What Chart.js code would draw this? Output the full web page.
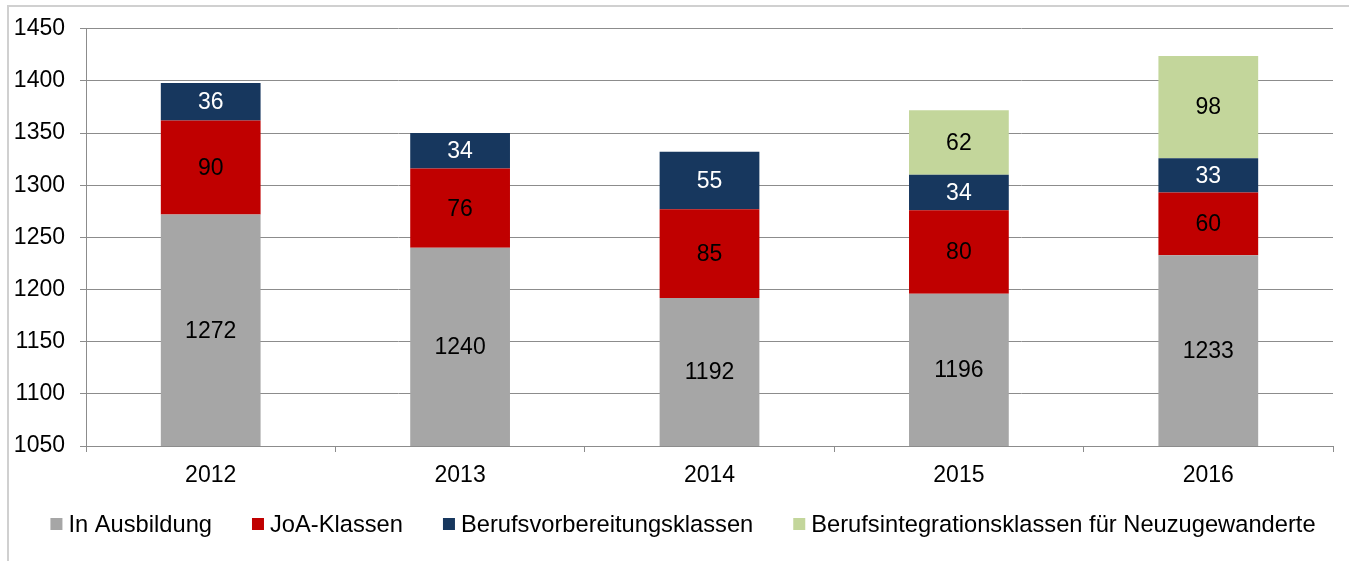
<!DOCTYPE html>
<html>
<head>
<meta charset="utf-8">
<script src="https://cdn.jsdelivr.net/npm/chart.js@4/dist/chart.umd.min.js"></script>
<style>
  html, body { margin: 0; padding: 0; background: #fff; overflow: hidden; }
  #wrap { position: relative; width: 1349px; height: 561px; }
  #frame { position: absolute; left: 7px; top: 5px; width: 1400px; height: 600px;
           border-left: 2px solid #d0d0d0; border-top: 2px solid #d0d0d0; }
  canvas { position: absolute; left: 0; top: 0; }
</style>
</head>
<body>
<div id="wrap">
  <div id="frame"></div>
  <canvas id="c" width="1349" height="561"></canvas>
</div>
<script>
/* Schülerzahlen nach Bildungsgang, gestapelt, 2012–2016 */
var YEARS = ['2012', '2013', '2014', '2015', '2016'];
var AUSBILDUNG = [1272, 1240, 1192, 1196, 1233];
var JOA = [90, 76, 85, 80, 60];
var BVK = [36, 34, 55, 34, 33];
var BIK = [null, null, null, 62, 98];
var SERIES_NAMES = ['In Ausbildung', 'JoA-Klassen', 'Berufsvorbereitungsklassen',
  'Berufsintegrationsklassen für Neuzugewanderte'];

var FAMILY = "'Liberation Sans', Arial, sans-serif";
var COLORS = ['#a6a6a6', '#c00000', '#17375e', '#c3d69b'];
var LABEL_INK = ['#000', '#000', '#fff', '#000'];
var GRID = '#8c8c8c';

Chart.defaults.font.family = FAMILY;
Chart.defaults.font.size = 23;
Chart.defaults.color = '#000';
Chart.defaults.animation = false;

/* ---- value labels centred in the visible part of each segment ---- */
var segLabels = {
  id: 'segLabels',
  afterDatasetsDraw: function (c) {
    var g = c.ctx, bottom = c.chartArea.bottom;
    g.save();
    g.font = '23px ' + FAMILY;
    g.textAlign = 'center';
    g.textBaseline = 'middle';
    c.data.datasets.forEach(function (ds, i) {
      c.getDatasetMeta(i).data.forEach(function (el, j) {
        var v = ds.data[j];
        if (v == null) return;
        var base = Math.min(el.base, bottom);
        g.fillStyle = LABEL_INK[i];
        g.fillText(String(v), el.x, (el.y + base) / 2 + 1);
      });
    });
    g.restore();
  }
};

/* ---- legend row: small squares, tight text gap ---- */
var rowLegend = {
  id: 'rowLegend',
  afterDraw: function (c) {
    var g = c.ctx, box = 12, gap = 6, space = 40, cy = 524;
    g.save();
    g.font = '23.7px ' + FAMILY;
    g.textBaseline = 'middle';
    g.textAlign = 'left';
    var widths = c.data.datasets.map(function (ds) { return g.measureText(ds.label).width; });
    var total = widths.reduce(function (a, w) { return a + box + gap + w; }, 0) + space * (widths.length - 1);
    var x = 683 - total / 2;
    c.data.datasets.forEach(function (ds, i) {
      g.fillStyle = ds.backgroundColor;
      g.fillRect(x, cy - box / 2, box, box);
      g.fillStyle = '#000';
      g.fillText(ds.label, x + box + gap, cy + 1);
      x += box + gap + widths[i] + space;
    });
    g.restore();
  }
};

var datasets = [AUSBILDUNG, JOA, BVK, BIK].map(function (d, i) {
  return {
    label: SERIES_NAMES[i],
    data: d,
    backgroundColor: COLORS[i],
    borderWidth: 0,
    barPercentage: 0.4,
    categoryPercentage: 1
  };
});

new Chart(document.getElementById('c'), {
  type: 'bar',
  data: { labels: YEARS, datasets: datasets },
  plugins: [segLabels, rowLegend],
  options: {
    responsive: false,
    layout: { padding: { left: 0, top: 26, right: 16, bottom: 0 } },
    plugins: { legend: { display: false }, tooltip: { enabled: false } },
    scales: {
      x: {
        stacked: true,
        offset: true,
        grid: { offset: true, drawOnChartArea: false, drawTicks: true, tickLength: 6, color: GRID },
        border: { color: GRID, width: 1 },
        ticks: { padding: 10, color: '#000' },
        afterFit: function (s) { s.height = 561 - 26 - 420; }
      },
      y: {
        stacked: true,
        min: 1050,
        max: 1450,
        grid: { color: GRID, tickLength: 6 },
        border: { color: GRID, width: 1 },
        ticks: { stepSize: 50, padding: 15, color: '#000', callback: function (v) { return String(v); } },
        afterFit: function (s) { s.width = 86; }
      }
    }
  }
});
</script>
</body>
</html>
